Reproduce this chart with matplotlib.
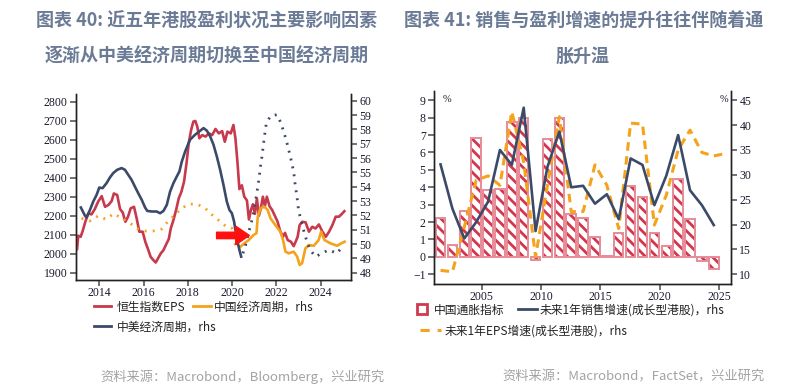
import numpy as np
import matplotlib
matplotlib.use('Agg')
import matplotlib.pyplot as plt
from matplotlib.lines import Line2D

# ---------------- data: left chart ----------------
hsi_eps_year = [2013.00, 2013.05, 2013.16, 2013.25, 2013.37, 2013.50, 2013.65, 2013.80, 2013.95,
                2014.11, 2014.26, 2014.41, 2014.56, 2014.66, 2014.81, 2014.94, 2015.06, 2015.18,
                2015.30, 2015.42, 2015.57, 2015.69, 2015.81, 2015.96, 2016.08, 2016.20, 2016.32,
                2016.44, 2016.55, 2016.65, 2016.78, 2016.90, 2017.02, 2017.14, 2017.23, 2017.35,
                2017.47, 2017.59, 2017.71, 2017.83, 2017.95, 2018.04, 2018.15, 2018.25, 2018.34,
                2018.43, 2018.52, 2018.65, 2018.80, 2018.95, 2019.10, 2019.25, 2019.40, 2019.55,
                2019.67, 2019.79, 2019.94, 2020.06, 2020.15, 2020.24, 2020.33, 2020.44, 2020.55,
                2020.67, 2020.76, 2020.85, 2020.94, 2021.03, 2021.12, 2021.21, 2021.30, 2021.39,
                2021.48, 2021.57, 2021.69, 2021.81, 2021.93, 2022.05, 2022.17, 2022.30, 2022.39,
                2022.51, 2022.66, 2022.78, 2022.87, 2022.96, 2023.05, 2023.17, 2023.32, 2023.47,
                2023.62, 2023.77, 2023.92, 2024.08, 2024.23, 2024.38, 2024.53, 2024.68, 2024.83,
                2024.98, 2025.07]
hsi_eps_val = [2025, 2095, 2089, 2119, 2168, 2212, 2207, 2235, 2274,
               2303, 2247, 2256, 2277, 2317, 2309, 2235, 2217, 2168,
               2195, 2239, 2247, 2186, 2116, 2116, 2063, 2025, 1984,
               1967, 1954, 1975, 2002, 2019, 2049, 2077, 2133, 2177,
               2230, 2291, 2326, 2379, 2484, 2581, 2651, 2695, 2698,
               2668, 2607, 2624, 2616, 2633, 2624, 2656, 2633, 2645,
               2589, 2642, 2633, 2677, 2607, 2484, 2340, 2360, 2300,
               2280, 2180, 2230, 2260, 2210, 2290, 2200, 2240, 2300,
               2250, 2300, 2250, 2230, 2200, 2170, 2120, 2090, 2110,
               2072, 2063, 2040, 2063, 2089, 2151, 2168, 2165, 2116,
               2142, 2133, 2154, 2116, 2089, 2116, 2151, 2195, 2195,
               2212, 2224]

cn_cycle_dot_year = [2013.20, 2013.58, 2013.95, 2014.30, 2014.66, 2015.01, 2015.36, 2015.66,
                     2016.07, 2016.44, 2016.82, 2017.12, 2017.42, 2017.68, 2018.03, 2018.40,
                     2018.78, 2019.13, 2019.43, 2019.73, 2019.99, 2020.14, 2020.24]
cn_cycle_dot_val = [51.80, 51.61, 51.96, 51.73, 52.13, 51.80, 51.52, 51.10,
                    50.91, 50.91, 51.05, 51.61, 52.03, 52.45, 52.78, 52.80,
                    52.50, 51.99, 51.61, 51.22, 51.10, 49.98, 49.70]

cn_cycle_year = [2020.37, 2020.52, 2020.75, 2020.97, 2021.10, 2021.16, 2021.28, 2021.46, 2021.61,
                 2021.73, 2021.95, 2022.18, 2022.30, 2022.41, 2022.56, 2022.78, 2022.94, 2023.05,
                 2023.16, 2023.31, 2023.46, 2023.69, 2023.91, 2024.02, 2024.17, 2024.44, 2024.75,
                 2024.93, 2025.08]
cn_cycle_val = [49.81, 50.00, 50.28, 50.63, 50.75, 51.91, 52.49, 52.60, 52.37,
                51.80, 51.33, 50.86, 50.28, 49.47, 49.35, 49.47, 49.12, 48.54,
                48.66, 49.70, 49.93, 49.88, 50.28, 50.86, 50.28, 50.05, 49.88,
                50.05, 50.16]

us_cn_cycle_year = [2013.17, 2013.35, 2013.43, 2013.58, 2013.73, 2013.88, 2014.00, 2014.15, 2014.33,
                    2014.48, 2014.63, 2014.81, 2015.01, 2015.16, 2015.31, 2015.46, 2015.61, 2015.76,
                    2015.92, 2016.07, 2016.17, 2016.37, 2016.59, 2016.75, 2016.90, 2017.05, 2017.20,
                    2017.35, 2017.50, 2017.62, 2017.73, 2017.88, 2018.10, 2018.33, 2018.52, 2018.71,
                    2018.86, 2019.01, 2019.16, 2019.31, 2019.46, 2019.61, 2019.76, 2019.88, 2019.99,
                    2020.09, 2020.21, 2020.33, 2020.41]
us_cn_cycle_val = [52.55, 51.99, 51.85, 52.38, 52.97, 53.43, 53.94, 53.90, 54.25,
                   54.64, 54.95, 55.18, 55.30, 55.18, 54.83, 54.48, 54.01, 53.55,
                   53.08, 52.55, 52.31, 52.27, 52.27, 52.15, 52.31, 52.73, 53.66,
                   54.25, 54.71, 55.06, 55.76, 56.46, 57.28, 57.63, 57.86, 58.09,
                   57.91, 57.51, 56.93, 56.11, 55.18, 54.13, 52.97, 52.38, 52.15,
                   51.57, 50.40, 49.59, 49.12]

us_cn_cycle_dot_year = [2020.49, 2020.61, 2020.76, 2020.94, 2021.09, 2021.21, 2021.27, 2021.35,
                        2021.45, 2021.54, 2021.72, 2022.02, 2022.17, 2022.33, 2022.48, 2022.63,
                        2022.78, 2022.85, 2022.93, 2023.00, 2023.16, 2023.38, 2023.53, 2023.76,
                        2024.06, 2024.36, 2024.74, 2025.04]
us_cn_cycle_dot_val = [49.35, 49.93, 50.87, 51.92, 53.31, 54.48, 55.30, 56.11,
                       57.39, 58.37, 58.91, 59.03, 58.56, 57.86, 57.04, 56.11,
                       55.06, 54.13, 53.31, 52.38, 51.33, 50.17, 49.59, 49.12,
                       49.35, 49.59, 49.35, 49.93]

left_xticks = [2014, 2016, 2018, 2020, 2022, 2024]
left_yticks = [1900, 2000, 2100, 2200, 2300, 2400, 2500, 2600, 2700, 2800]
left_rticks = [48, 49, 50, 51, 52, 53, 54, 55, 56, 57, 58, 59, 60]

# ---------------- data: right chart ----------------
bar_years = list(range(2001, 2025))
cpi_vals = [2.25, 0.7, 2.65, 6.85, 3.85, 3.9, 7.75, 8.0, -0.15, 6.8, 8.0, 2.45,
            2.25, 1.15, 0.05, 1.35, 4.1, 3.45, 1.4, 0.65, 4.5, 2.2, -0.25, -0.7]
sales_growth = [32.1, 23.2, 17.2, 20.5, 24.6, 35.0, 32.0, 43.5, 18.7, 31.6, 38.7, 27.5,
                27.8, 24.2, 26.1, 21.1, 33.3, 32.0, 23.9, 29.8, 38.0, 26.9, 23.9, 19.9]
eps_years = list(range(2001, 2026))
eps_growth = [10.8, 10.5, 19.5, 28.9, 29.8, 27.9, 42.7, 32.6, 13.5, 27.9, 41.7, 22.6,
              22.6, 32.0, 27.9, 19.2, 40.4, 40.2, 19.9, 25.9, 35.0, 39.0, 34.5, 33.8, 34.3]

right_xticks = [2005, 2010, 2015, 2020, 2025]
right_yticks = list(range(-1, 10))
right_rticks = [10, 15, 20, 25, 30, 35, 40, 45]

# ---------------- styles ----------------
plt.rcParams['font.family'] = ['Noto Sans CJK SC', 'DejaVu Sans']
plt.rcParams['hatch.linewidth'] = 2.0

RED = '#c7394c'
HATCH_RED = '#d2364c'
NAVY = '#3c4a69'
ORANGE = '#f5a21c'
BAR_EDGE = '#e68c98'
TITLE_C = '#6b7b96'
SRC_C = '#a3a3a3'
W, H = 805, 392
DOTS = (0, (0.7, 2.2))

fig = plt.figure(figsize=(W / 100, H / 100), dpi=100)


def style_axes(ax, axr):
    for a in (ax, axr):
        a.spines['top'].set_visible(False)
        for s in ('left', 'right', 'bottom'):
            a.spines[s].set_color('#222222')
            a.spines[s].set_linewidth(1.0)
        a.tick_params(direction='out', length=4, width=1.3, color='#666666',
                      labelsize=8.5, labelcolor='#1a1a2e', labelfontfamily='Liberation Serif', pad=2)
    axr.tick_params(axis='x', bottom=False)
    ax.tick_params(axis='x', pad=1)


# ---------------- left chart ----------------
ax1 = fig.add_axes([76 / W, 1 - 280 / H, 275 / W, 186 / H])
ax1r = ax1.twinx()
style_axes(ax1, ax1r)
ax1.set_xlim(2012.95, 2025.37)
ax1.set_ylim(1862, 2840)
ax1r.set_ylim(47.49, 60.47)
ax1.set_xticks(left_xticks)
ax1.set_yticks(left_yticks)
ax1r.set_yticks(left_rticks)

ax1.plot(hsi_eps_year, hsi_eps_val, color=RED, lw=1.9, zorder=3)
ax1r.plot(cn_cycle_dot_year, cn_cycle_dot_val, color=ORANGE, lw=2.0,
          linestyle=DOTS, dash_capstyle='butt')
ax1r.plot(cn_cycle_year, cn_cycle_val, color=ORANGE, lw=1.9)
ax1r.plot(us_cn_cycle_year, us_cn_cycle_val, color=NAVY, lw=1.9)
ax1r.plot(us_cn_cycle_dot_year, us_cn_cycle_dot_val, color=NAVY, lw=2.0,
          linestyle=DOTS, dash_capstyle='butt')

ax1r.annotate('', xy=(2020.78, 50.6), xytext=(2019.3, 50.6),
              arrowprops=dict(arrowstyle='simple,head_length=0.7,head_width=0.95,tail_width=0.33',
                              color='#ff1010', mutation_scale=14, shrinkA=0, shrinkB=0))

# ---------------- right chart ----------------
ax2 = fig.add_axes([434 / W, 1 - 284 / H, 297 / W, 193 / H])
ax2r = ax2.twinx()
style_axes(ax2, ax2r)
ax2.set_xlim(2001, 2026)
ax2.set_ylim(-1.557, 9.53)
ax2r.set_ylim(8.05, 46.86)
ax2.set_xticks(right_xticks)
ax2.set_yticks(right_yticks)
ax2r.set_yticks(right_rticks)

bx = np.array(bar_years) + 0.55
# hatch layer (hatch colour follows the edge colour) then the pink outline
ax2.bar(bx, cpi_vals, width=0.8, facecolor='white', edgecolor=HATCH_RED,
        linewidth=0, hatch='\\\\\\')
ax2.bar(bx, cpi_vals, width=0.8, facecolor='none', edgecolor=BAR_EDGE, linewidth=1.4)
ax2r.plot(np.array(bar_years) + 0.55, sales_growth, color=NAVY, lw=1.9, zorder=4)
ax2r.plot(np.array(eps_years) + 0.55, eps_growth, color=ORANGE, lw=2.2,
          linestyle=(0, (2.8, 1.8)), zorder=3)

ax2.text(0.03, 0.955, '%', transform=ax2.transAxes, fontsize=7.5,
         family='Liberation Serif', color='#1a1a2e', ha='left', va='center')
ax2.text(0.963, 0.955, '%', transform=ax2.transAxes, fontsize=7.5,
         family='Liberation Serif', color='#1a1a2e', ha='left', va='center')

# ---------------- titles ----------------
tkw = dict(ha='center', va='center', fontsize=13, fontweight='bold', color=TITLE_C)
fig.text(207 / W, 1 - 21.5 / H, '图表 40: 近五年港股盈利状况主要影响因素', **tkw)
fig.text(207 / W, 1 - 56.5 / H, '逐渐从中美经济周期切换至中国经济周期', **tkw)
fig.text(584 / W, 1 - 21 / H, '图表 41: 销售与盈利增速的提升往往伴随着通', **tkw)
fig.text(583 / W, 1 - 56 / H, '胀升温', **tkw)

# ---------------- sources ----------------
fig.text(385 / W, 1 - 377 / H, '资料来源：Macrobond，Bloomberg，兴业研究',
         ha='right', va='center', fontsize=9.5, color=SRC_C)
fig.text(765 / W, 1 - 377 / H, '资料来源：Macrobond，FactSet，兴业研究',
         ha='right', va='center', fontsize=9.5, color=SRC_C)

# ---------------- legends (one per item, placed like the reference) ----------------
LFS = 8.5
px_per_em = LFS * 100 / 72


def legend_item(handle, label, x_px, y_px, hlen_px, text_x_px):
    hl = hlen_px / px_per_em
    pad = (text_x_px - x_px - hlen_px) / px_per_em
    leg = fig.legend([handle], [label], loc='center left',
                     bbox_to_anchor=(x_px / W, 1 - y_px / H), frameon=False,
                     borderpad=0, borderaxespad=0, handlelength=hl, handletextpad=pad,
                     fontsize=LFS, labelcolor='#222222')
    return leg


legend_item(Line2D([], [], color=RED, lw=2), '恒生指数EPS', 94, 307, 17, 116.5)
legend_item(Line2D([], [], color=ORANGE, lw=2), '中国经济周期，rhs', 192.5, 307, 18, 214)
legend_item(Line2D([], [], color=NAVY, lw=2), '中美经济周期，rhs', 94, 327, 17, 116.5)
legend_item(Line2D([], [], color=RED, marker='s', markersize=6.5, markerfacecolor='white',
                   markeredgecolor='#cf3a4e', markeredgewidth=2, linestyle='none'),
            '中国通胀指标', 418, 310, 8, 434)
legend_item(Line2D([], [], color=NAVY, lw=2), '未来1年销售增速(成长型港股)，rhs', 518, 310, 19, 540)
legend_item(Line2D([], [], color=ORANGE, lw=2.2, linestyle=(0, (3, 2.6))),
            '未来1年EPS增速(成长型港股)，rhs', 420, 331, 21, 445)

fig.savefig('out.png', dpi=100)
